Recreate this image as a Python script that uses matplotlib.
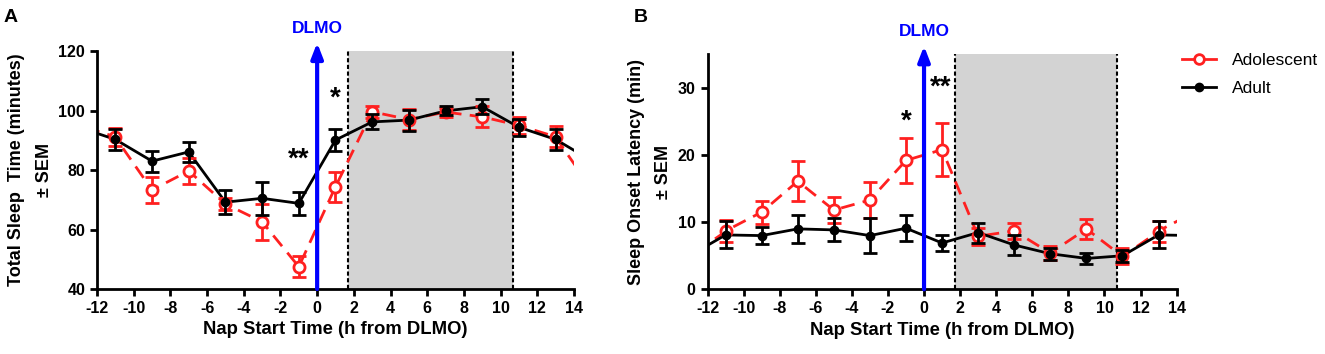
import numpy as np
import matplotlib.pyplot as plt

plt.rcParams['font.family'] = ['Liberation Sans', 'DejaVu Sans']
plt.rcParams['font.weight'] = 'bold'
plt.rcParams['axes.unicode_minus'] = False

# nap start times (h from DLMO)
hours = np.array([-11, -9, -7, -5, -3, -1, 1, 3, 5, 7, 9, 11, 13])

# Panel A: total sleep time (minutes)
tst_adol = [91.0, 73.3, 79.7, 68.6, 62.6, 47.5, 74.4, 99.6, 97.0, 99.5, 97.9, 95.0, 91.2]
tst_adol_sem = [3.0, 4.3, 4.4, 2.0, 6.0, 3.5, 5.0, 2.0, 3.5, 1.5, 3.5, 3.0, 3.5]
tst_adult = [90.3, 83.0, 86.1, 69.2, 70.5, 68.8, 90.1, 96.2, 96.8, 99.9, 101.3, 94.4, 90.3]
tst_adult_sem = [3.5, 3.5, 3.3, 4.0, 5.6, 3.8, 3.7, 2.5, 3.5, 1.5, 2.5, 2.8, 3.5]

# Panel B: sleep onset latency (min)
sol_adol = [8.7, 11.5, 16.1, 11.8, 13.3, 19.2, 20.8, 7.9, 8.7, 5.4, 9.0, 4.9, 8.6]
sol_adol_sem = [1.6, 1.7, 3.0, 1.9, 2.7, 3.3, 3.9, 1.3, 1.2, 1.0, 1.5, 1.2, 1.5]
sol_adult = [8.1, 8.0, 9.0, 8.85, 8.0, 9.1, 6.9, 8.45, 6.6, 5.3, 4.6, 5.0, 8.1]
sol_adult_sem = [2.0, 1.3, 2.1, 1.7, 2.6, 1.9, 1.2, 1.5, 1.5, 0.9, 0.8, 0.9, 2.0]

night_start, night_end = 1.7, 10.7
red = '#ff2020'


def draw_panel(ax, adol, adol_sem, adult, adult_sem, ylim, yticks, ylabel, stars):
    ax.axvspan(night_start, night_end, color='#d3d3d3', lw=0, zorder=0)
    for xv in (night_start, night_end):
        ax.axvline(xv, color='black', lw=1.5, ls=(0, (2, 1.2)), zorder=1)

    # data wraps around the 24 h day, lines continue to the edges
    xw = np.concatenate([hours - 24, hours, hours + 24])
    ax.plot(xw, np.tile(adol, 3), color=red, lw=2, ls=(0, (5, 3)), zorder=2)
    ax.plot(xw, np.tile(adult, 3), color='black', lw=2, zorder=3)

    ax.errorbar(hours, adol, yerr=adol_sem, fmt='o', mfc='white', mec=red,
                mew=2, ms=8, ecolor=red, elinewidth=2, capsize=5, capthick=2,
                zorder=4)
    ax.errorbar(hours, adult, yerr=adult_sem, fmt='o', color='black', ms=6,
                elinewidth=2, capsize=5, capthick=2, zorder=5)

    ax.set_xlim(-12, 14)
    ax.set_ylim(*ylim)
    ax.set_xticks(np.arange(-12, 15, 2))
    ax.set_yticks(yticks)

    # DLMO arrow
    span = ylim[1] - ylim[0]
    ax.annotate('', xy=(0, ylim[1] + span * 0.035), xytext=(0, ylim[0]),
                annotation_clip=False,
                arrowprops=dict(arrowstyle='-|>,head_width=0.35,head_length=0.9',
                                color='#0000ff', lw=3, shrinkA=0, shrinkB=0),
                zorder=6)
    ax.text(0, ylim[1] + span * 0.065, 'DLMO', color='#0000ff',
            ha='center', va='bottom', fontsize=12.5, fontweight='bold')

    for sx, sy, s in stars:
        ax.text(sx, sy, s, ha='center', va='center', fontsize=20, fontweight='bold')

    for side in ('top', 'right'):
        ax.spines[side].set_visible(False)
    for side in ('left', 'bottom'):
        ax.spines[side].set_linewidth(2)
    ax.tick_params(width=2, length=5, labelsize=11.5)
    for lab in ax.get_xticklabels() + ax.get_yticklabels():
        lab.set_fontweight('bold')
    ax.set_xlabel('Nap Start Time (h from DLMO)', fontsize=13.3, fontweight='bold')
    ax.set_ylabel(ylabel, fontsize=13, fontweight='bold', linespacing=1.8)


fig = plt.figure(figsize=(13.25, 3.54), dpi=100)
axA = fig.add_axes([0.0732, 0.1836, 0.36, 0.672])
axB = fig.add_axes([0.534, 0.1827, 0.354, 0.664])

draw_panel(axA, tst_adol, tst_adol_sem, tst_adult, tst_adult_sem,
           (40, 120), [40, 60, 80, 100, 120],
           'Total Sleep  Time (minutes)\n± SEM',
           [(-1, 83.5, '**'), (1, 104, '*')])
draw_panel(axB, sol_adol, sol_adol_sem, sol_adult, sol_adult_sem,
           (0, 35), [0, 10, 20, 30],
           'Sleep Onset Latency (min)\n± SEM',
           [(-1, 25.0, '*'), (0.9, 30.0, '**')])

fig.text(0.003, 0.975, 'A', fontsize=14, fontweight='bold', va='top')
fig.text(0.478, 0.975, 'B', fontsize=14, fontweight='bold', va='top')

h1 = plt.Line2D([], [], color=red, lw=2, marker='o', mfc='white', mec=red, mew=2, ms=7)
h2 = plt.Line2D([], [], color='black', lw=2, marker='o', ms=6)
fig.legend([h1, h2], ['Adolescent', 'Adult'], loc='upper left',
           bbox_to_anchor=(0.88, 0.895), frameon=False, handlelength=2,
           handletextpad=0.9, labelspacing=0.75,
           prop={'size': 12.5, 'weight': 'normal'})

fig.savefig('out.png', dpi=100)
